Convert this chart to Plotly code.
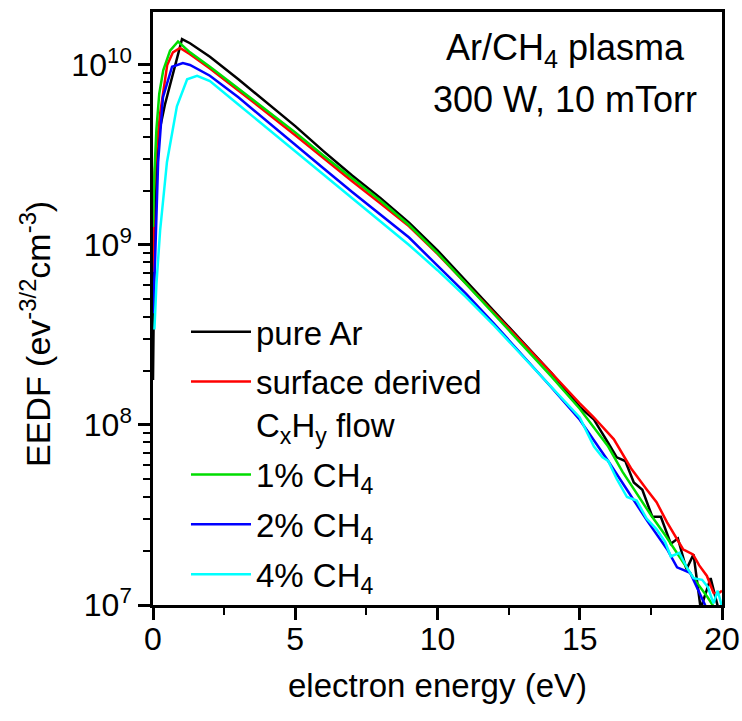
import plotly.graph_objects as go

# ---- data (energy in eV, EEDF in eV^-3/2 cm^-3) ----
e_ar = [0, 0.05, 0.1, 0.18, 0.42, 0.7, 1.02, 1.3, 1.65, 2, 3, 4, 5, 6, 7, 8, 9, 10, 11, 12, 13, 14, 15,
        15.5, 16, 16.3, 16.6, 16.9, 17.2, 17.55, 17.85, 18.2, 18.45, 18.75, 19.0, 19.25, 19.6, 19.85, 20]
f_ar = [1.78e8, 1.0e9, 2.24e9, 3.98e9, 6.03e9, 8.91e9, 1.39e10, 1.32e10, 1.21e10, 1.11e10, 8.32e9,
        6.17e9, 4.57e9, 3.31e9, 2.43e9, 1.82e9, 1.33e9, 9.33e8, 6.31e8, 4.27e8, 2.88e8, 1.95e8, 1.26e8,
        1.07e8, 7.94e7, 6.61e7, 6.31e7, 4.79e7, 4.37e7, 3.09e7, 3.09e7, 2.19e7, 2.34e7, 1.58e7, 1.91e7,
        9.55e6, 1.41e7, 9.55e6, 7.94e6]

e_surf = [0, 0.03, 0.1, 0.25, 0.5, 0.7, 0.95, 1.3, 2, 3, 4, 5, 6, 7, 8, 9, 10, 11, 12, 13, 14, 15,
          15.5, 16.2, 16.8, 17.36, 17.7, 18.07, 18.63, 18.98, 19.2, 19.47, 19.7, 19.85, 20]
f_surf = [7.08e8, 2.0e9, 3.16e9, 5.37e9, 1.0e10, 1.175e10, 1.242e10, 1.148e10, 9.55e9, 7.24e9, 5.43e9,
          4.07e9, 3.02e9, 2.26e9, 1.70e9, 1.27e9, 8.91e8, 6.10e8, 4.17e8, 2.85e8, 1.95e8, 1.32e8,
          1.10e8, 8.32e7, 5.75e7, 4.37e7, 3.72e7, 2.88e7, 2.04e7, 1.91e7, 1.66e7, 1.45e7, 1.17e7,
          1.15e7, 1.20e7]

e_1 = [0, 0.05, 0.12, 0.22, 0.36, 0.6, 0.88, 1.3, 2, 3, 4, 5, 6, 7, 8, 9, 10, 11, 12, 13, 14, 15,
       16, 16.5, 17, 17.5, 18, 18.5, 19, 19.5, 19.75, 20]
f_1 = [1.26e9, 2.51e9, 4.37e9, 6.92e9, 9.33e9, 1.20e10, 1.35e10, 1.175e10, 9.77e9, 7.41e9, 5.62e9,
       4.22e9, 3.13e9, 2.34e9, 1.76e9, 1.29e9, 9.02e8, 6.10e8, 4.12e8, 2.79e8, 1.86e8, 1.23e8,
       7.59e7, 5.50e7, 4.17e7, 3.16e7, 2.45e7, 1.86e7, 1.41e7, 1.10e7, 9.55e6, 8.51e6]

e_2 = [0, 0.07, 0.18, 0.35, 0.67, 1.05, 1.3, 2, 3, 4, 5, 6, 7, 8, 9, 10, 11, 12, 13, 14, 15, 16,
       16.66, 17.36, 18.07, 18.42, 18.88, 19.33, 19.5, 19.7]
f_2 = [4.17e8, 7.94e8, 2.88e9, 6.61e9, 9.77e9, 1.023e10, 1.0e10, 8.71e9, 6.61e9, 4.90e9, 3.63e9,
       2.66e9, 1.97e9, 1.48e9, 1.10e9, 7.67e8, 5.37e8, 3.63e8, 2.43e8, 1.62e8, 1.07e8, 6.31e7,
       4.37e7, 2.95e7, 2.04e7, 1.62e7, 1.51e7, 1.07e7, 9.33e6, 7.94e6]

e_4 = [0.05, 0.12, 0.25, 0.49, 0.84, 1.2, 1.55, 2, 3, 4, 5, 6, 7, 8, 9, 10, 11, 12, 13, 14, 15,
       15.5, 15.8, 16.0, 16.3, 16.66, 17.0, 17.35, 17.7, 18.0, 18.2, 18.5, 18.8, 19.0, 19.3, 19.5,
       19.7, 19.85, 20]
f_4 = [3.39e8, 6.03e8, 1.20e9, 2.88e9, 5.89e9, 8.32e9, 8.71e9, 8.13e9, 6.03e9, 4.47e9, 3.31e9,
       2.48e9, 1.84e9, 1.36e9, 1.0e9, 7.24e8, 5.13e8, 3.55e8, 2.40e8, 1.64e8, 1.10e8, 7.59e7,
       6.61e7, 6.31e7, 5.01e7, 3.98e7, 3.80e7, 3.02e7, 2.63e7, 2.24e7, 1.86e7, 1.95e7, 1.58e7,
       1.41e7, 1.38e7, 1.26e7, 1.02e7, 1.20e7, 9.77e6]

series_names = ["pure Ar", "surface derived<br>C<sub>x</sub>H<sub>y</sub> flow",
                "1% CH<sub>4</sub>", "2% CH<sub>4</sub>", "4% CH<sub>4</sub>"]
series_x = [e_ar, e_surf, e_1, e_2, e_4]
series_y = [f_ar, f_surf, f_1, f_2, f_4]
colors = ["#000000", "#ff0000", "#00dd00", "#0000ff", "#00ffff"]

# axis ticks and labels
x_major = [0, 5, 10, 15, 20]
x_labels = ["0", "5", "10", "15", "20"]
x_minor = [2.5, 7.5, 12.5, 17.5]
y_major = [1e7, 1e8, 1e9, 1e10]
y_labels = ["10<sup>7</sup>", "10<sup>8</sup>", "10<sup>9</sup>", "10<sup>10</sup>"]
y_minor = [m * 10 ** d for d in range(7, 11) for m in range(2, 10)]

FONT = "Liberation Sans, Arial, sans-serif"

fig = go.Figure()
for i, (name, xs, ys, c) in enumerate(zip(series_names, series_x, series_y, colors)):
    fig.add_trace(go.Scatter(x=xs, y=ys, mode="lines", name=name, legendgroup=f"g{i}",
                             line=dict(color=c, width=2.5)))

axis_common = dict(showline=True, linecolor="black", linewidth=2.5, mirror=True,
                   ticks="outside", ticklen=12, tickwidth=2.5, tickcolor="black",
                   showgrid=False, zeroline=False, automargin=False,
                   tickfont=dict(family=FONT, size=32, color="black"))

fig.update_layout(
    width=742, height=721,
    margin=dict(l=153, r=20, t=12, b=116),
    paper_bgcolor="white", plot_bgcolor="white",
    font=dict(family=FONT, color="black"),
    xaxis=dict(range=[0, 20], tickmode="array", tickvals=x_major, ticktext=x_labels,
               ticklabelstandoff=-8,
               minor=dict(ticks="outside", ticklen=7, tickwidth=2, tickmode="array",
                          tickvals=x_minor, tickcolor="black"),
               title=dict(text="electron energy (eV)", font=dict(family=FONT, size=33), standoff=18),
               **axis_common),
    yaxis=dict(type="log", range=[7, 10.294], tickmode="array", tickvals=y_major, ticktext=y_labels,
               minor=dict(ticks="outside", ticklen=7, tickwidth=2, tickmode="array",
                          tickvals=y_minor, tickcolor="black"),
               **axis_common),
    legend=dict(x=0.058, y=0.508, xanchor="left", yanchor="top", bgcolor="rgba(0,0,0,0)",
                font=dict(family=FONT, size=33), valign="top", tracegroupgap=4,
                itemwidth=60),
    showlegend=True,
)

# pixel -> paper helpers for text placement
plot_l, plot_w = 153, 742 - 153 - 20
plot_b, plot_h = 116, 721 - 12 - 116


def px_x(px):
    return (px - plot_l) / plot_w


def px_y(py):
    return ((721 - py) - plot_b) / plot_h


# y-axis title (rotated text placed where it sits in the reference)
fig.add_annotation(x=px_x(35), y=px_y(334), xref="paper", yref="paper", showarrow=False,
                   xanchor="center", yanchor="middle",
                   text="EEDF (ev<sup>-3/2</sup>cm<sup>-3</sup>)", textangle=-90,
                   font=dict(family=FONT, size=34))

fig.add_annotation(x=px_x(565), y=px_y(50), xref="paper", yref="paper", showarrow=False,
                   xanchor="center", yanchor="middle",
                   text="Ar/CH<sub>4</sub> plasma", font=dict(family=FONT, size=36))
fig.add_annotation(x=px_x(565), y=px_y(100), xref="paper", yref="paper", showarrow=False,
                   xanchor="center", yanchor="middle",
                   text="300 W, 10 mTorr", font=dict(family=FONT, size=36))

fig.write_html("out.html")
